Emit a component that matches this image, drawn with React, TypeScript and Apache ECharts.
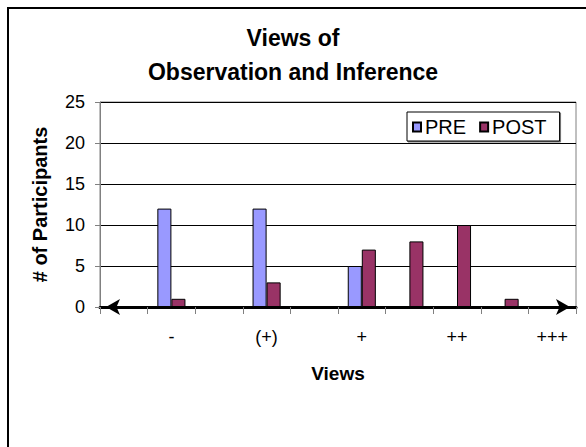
import React, { useEffect, useRef } from "react";
import * as echarts from "echarts";

// Ten slots on the views scale; only every other slot carries a label.
const categories = ["", "-", "", "(+)", "", "+", "", "++", "", "+++"];
const preValues = [null, 12, null, 12, null, 5, null, null, null, null];
const postValues = [null, 1, null, 3, null, 7, 8, 10, 1, null];
const yTicks = { min: 0, max: 25, interval: 5 };

const FONT = "'Liberation Sans', Arial, sans-serif";

export default function App() {
  const ref = useRef<HTMLDivElement>(null);

  useEffect(() => {
    if (!ref.current) return;
    const chart = echarts.init(ref.current, null, { renderer: "svg" });
    chart.setOption({
      animation: false,
      backgroundColor: "#ffffff",
      textStyle: { fontFamily: FONT, color: "#000" },
      graphic: [
        {
          type: "rect",
          shape: { x: 8, y: 8, width: 620, height: 480 },
          style: { fill: "none", stroke: "#000", lineWidth: 2 },
          silent: true,
        },
      ],
      title: {
        text: "Views of\nObservation and Inference",
        left: "center",
        top: 16,
        textStyle: {
          fontFamily: FONT,
          fontSize: 23,
          fontWeight: "bold",
          color: "#000",
          lineHeight: 34,
        },
      },
      legend: {
        left: 407,
        top: 112,
        orient: "horizontal",
        itemWidth: 8,
        itemHeight: 9,
        itemGap: 13,
        padding: [5, 13, 4, 5],
        borderColor: "#000",
        borderWidth: 1,
        backgroundColor: "#fff",
        shadowColor: "rgba(0,0,0,0.55)",
        shadowOffsetX: 1,
        shadowOffsetY: 1,
        shadowBlur: 0,
        textStyle: { fontFamily: FONT, fontSize: 20, color: "#000", padding: [0, 0, 0, -1] },
        data: [
          { name: "PRE", icon: "rect" },
          { name: "POST", icon: "rect" },
        ],
      },
      grid: { left: 100, right: 10, top: 102, bottom: 140, show: true, borderColor: "#808080", borderWidth: 1 },
      xAxis: {
        type: "category",
        data: categories,
        name: "Views",
        nameLocation: "middle",
        nameGap: 57,
        nameTextStyle: { fontFamily: FONT, fontSize: 19, fontWeight: "bold", color: "#000" },
        axisLine: {
          show: true,
          lineStyle: { color: "#000", width: 3 },
          symbol: ["arrow", "arrow"],
          symbolSize: [12, 14],
          symbolOffset: [6, -6],
        },
        axisTick: { show: true, interval: 0, length: 7, lineStyle: { color: "#808080", width: 1 } },
        axisLabel: { interval: 0, margin: 21, fontFamily: FONT, fontSize: 18, color: "#000" },
        splitLine: { show: false },
      },
      yAxis: {
        type: "value",
        min: yTicks.min,
        max: yTicks.max,
        interval: yTicks.interval,
        name: "# of Participants",
        nameLocation: "middle",
        nameGap: 50,
        nameTextStyle: { fontFamily: FONT, fontSize: 20, fontWeight: "bold", color: "#000" },
        axisLine: { show: true, lineStyle: { color: "#808080", width: 1 } },
        axisTick: { show: true, length: 5, lineStyle: { color: "#808080", width: 1 } },
        axisLabel: { margin: 15, fontFamily: FONT, fontSize: 18, color: "#000" },
        splitLine: { show: true, lineStyle: { color: "#000", width: 1 } },
      },
      series: [
        {
          name: "PRE",
          type: "bar",
          data: preValues,
          barGap: "0%",
          barCategoryGap: "41%",
          itemStyle: { color: "#9999FF", borderColor: "#000", borderWidth: 1 },
        },
        {
          name: "POST",
          type: "bar",
          data: postValues,
          barGap: "0%",
          barCategoryGap: "41%",
          itemStyle: { color: "#993366", borderColor: "#000", borderWidth: 1 },
        },
      ],
    });
    return () => chart.dispose();
  }, []);

  return (
    <div
      ref={ref}
      style={{ position: "fixed", left: 0, top: 0, width: 586, height: 447 }}
    />
  );
}
